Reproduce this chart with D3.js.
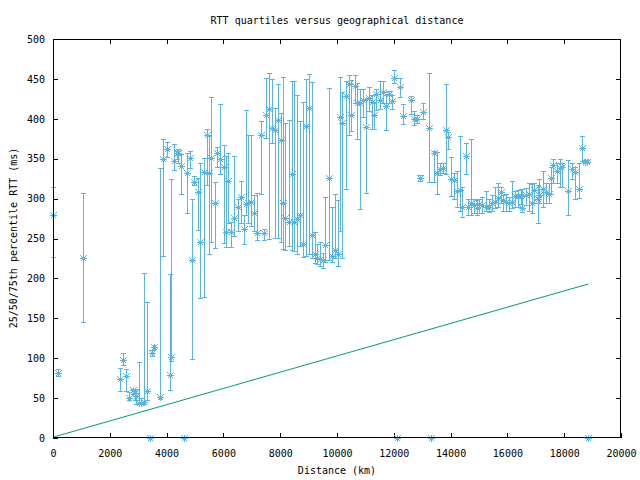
<!DOCTYPE html>
<html>
<head>
<meta charset="utf-8">
<script src="https://cdn.jsdelivr.net/npm/d3@7"></script>
<style>
  body { margin: 0; background: white; }
  svg text { font-family: 'DejaVu Sans Mono', monospace; font-size: 10px; fill: black; }
</style>
</head>
<body>
<svg id="chart" width="640" height="480"></svg>
<script>
// distance of each bin (km)
var distKm = [
  0, 190, 1070, 2360, 2480, 2580, 2690, 2800, 2880, 2930,
  3040, 3110, 3190, 3300, 3400, 3500, 3560, 3780, 3890, 4000,
  4120, 4160, 4270, 4370, 4410, 4490, 4600, 4720, 4820, 4880,
  4980, 5090, 5190, 5300, 5410, 5480, 5570, 5690, 5780, 5880,
  6010, 6090, 6170, 6280, 6380, 6500, 6610, 6710, 6780, 6850,
  6980, 7090, 7180, 7310, 7420, 7490, 7590, 7700, 7800, 7910,
  8020, 8090, 8180, 8300, 8410, 8500, 8600, 8710, 8790, 8900,
  9000, 9110, 9210, 9310, 9390, 9500, 9590, 9710, 9820, 9920,
  10040, 10090, 10190, 10300, 10420, 10510, 10630, 10710, 10800, 10910,
  11030, 11120, 11220, 11300, 11390, 11500, 11610, 11720, 11830, 11920,
  12000, 12120, 12210, 12320, 12600, 12710, 12830, 12920, 13030, 13240,
  13310, 13410, 13530, 13610, 13730, 13850, 13910, 14030, 14120, 14210,
  14330, 14410, 14540, 14630, 14730, 14820, 14920, 15010, 15120, 15240,
  15350, 15450, 15560, 15670, 15770, 15860, 15950, 16060, 16160, 16260,
  16360, 16470, 16530, 16650, 16750, 16850, 16940, 17060, 17120, 17240,
  17350, 17450, 17530, 17620, 17740, 17850, 17940, 18150, 18260, 18380,
  18530, 18630, 18730, 18790, 18850
];

// 50th percentile RTT (ms)
var rttMedian = [
  279, 81, 225, 74, 98, 78, 50, 60, 56, 53,
  44, 44, 45, 59, 0, 107, 114, 52, 349, 362,
  79, 102, 347, 357, 357, 341, 0, 332, 351, 223,
  321, 308, 246, 333, 380, 332, 351, 294, 357, 350,
  340, 258, 322, 258, 276, 290, 302, 262, 293, 294,
  296, 282, 257, 380, 257, 405, 412, 388, 386, 399,
  374, 294, 276, 271, 331, 271, 274, 279, 243, 391,
  413, 254, 231, 225, 224, 223, 242, 326, 228, 236,
  231, 402, 395, 428, 443, 405, 441, 420, 420, 423,
  390, 426, 421, 405, 431, 423, 434, 416, 431, 422,
  451, 0, 440, 403, 424, 400, 400, 326, 409, 388,
  0, 357, 332, 337, 338, 386, 377, 324, 323, 309,
  311, 290, 354, 289, 294, 292, 288, 293, 292, 290,
  289, 294, 296, 301, 308, 298, 296, 294, 296, 303,
  303, 303, 288, 304, 306, 294, 311, 300, 305, 312,
  308, 306, 326, 342, 335, 338, 339, 309, 337, 333,
  312, 363, 346, 346, 0
];

// 25th percentile RTT (ms)
var rttQ25 = [
  227, 78, 145, 59, 91, 59, 47, 55, 48, 43,
  43, 42, 43, 47, 0, 103, 111, 49, 228, 352,
  60, 96, 336, 350, 345, 306, 0, 282, 338, 99,
  317, 261, 175, 177, 317, 231, 245, 238, 340, 331,
  244, 239, 269, 239, 253, 260, 270, 243, 280, 270,
  266, 260, 248, 306, 248, 376, 250, 370, 251, 251,
  246, 237, 235, 240, 236, 234, 230, 240, 227, 228,
  230, 225, 219, 218, 216, 213, 220, 223, 220, 225,
  215, 259, 226, 312, 380, 385, 420, 375, 287, 402,
  307, 410, 387, 387, 411, 412, 420, 386, 420, 412,
  445, 0, 427, 393, 406, 392, 395, 322, 400, 321,
  0, 321, 306, 330, 332, 331, 362, 303, 300, 290,
  284, 277, 331, 280, 280, 282, 279, 282, 282, 284,
  283, 285, 288, 290, 295, 285, 285, 285, 288, 290,
  290, 293, 283, 292, 285, 282, 295, 270, 295, 290,
  295, 295, 306, 320, 320, 315, 315, 279, 325, 300,
  301, 347, 344, 344, 0
];

// 75th percentile RTT (ms)
var rttQ75 = [
  315, 86, 307, 88, 107, 87, 58, 62, 62, 62,
  95, 50, 207, 170, 0, 110, 117, 338, 375, 371,
  205, 324, 368, 360, 362, 356, 0, 357, 360, 299,
  328, 326, 345, 351, 387, 378, 427, 321, 365, 419,
  367, 354, 357, 271, 353, 300, 322, 280, 411, 380,
  380, 305, 307, 397, 262, 451, 457, 450, 414, 443,
  407, 452, 395, 398, 447, 447, 430, 397, 421, 450,
  456, 446, 258, 243, 245, 232, 302, 439, 290, 306,
  298, 453, 434, 447, 455, 448, 455, 445, 437, 437,
  425, 440, 430, 420, 437, 447, 447, 430, 435, 430,
  461, 0, 451, 419, 429, 410, 405, 329, 420, 457,
  0, 360, 358, 345, 345, 444, 384, 352, 332, 335,
  378, 315, 370, 299, 375, 300, 298, 300, 302, 310,
  300, 305, 314, 320, 315, 305, 306, 302, 322, 310,
  311, 312, 312, 313, 320, 318, 320, 317, 325, 335,
  320, 320, 340, 350, 345, 350, 345, 348, 345, 340,
  345, 379, 348, 348, 0
];

// reference line (speed of light in fibre)
var lineKm = [0, 18850];
var lineRtt = [1, 193];

var xTicks = [0, 2000, 4000, 6000, 8000, 10000, 12000, 14000, 16000, 18000, 20000];
var yTicks = [0, 50, 100, 150, 200, 250, 300, 350, 400, 450, 500];

var blue = "#56b4e9",
    green = "#009e73";

var svg = d3.select("#chart");

svg.append("rect")
   .attr("width", 640)
   .attr("height", 480)
   .attr("fill", "white");

var x = d3.scaleLinear().domain([0, 20000]).range([53, 621]);
var y = d3.scaleLinear().domain([0, 500]).range([438, 39]);

// Title
svg.append("text")
   .attr("x", 337)
   .attr("y", 24)
   .attr("text-anchor", "middle")
   .text("RTT quartiles versus geographical distance");

// Axis labels
svg.append("text")
   .attr("x", 337)
   .attr("y", 474)
   .attr("text-anchor", "middle")
   .text("Distance (km)");

svg.append("text")
   .attr("transform", "translate(16.5,238) rotate(-90)")
   .attr("text-anchor", "middle")
   .text("25/50/75th percentile RTT (ms)");

// Axes (ticks pointing inwards, gnuplot style)
var fmt = d3.format("d");
var gx = svg.append("g")
  .attr("transform", "translate(0,438)")
  .call(d3.axisBottom(x).tickValues(xTicks).tickFormat(fmt).tickSizeInner(-5).tickSizeOuter(0).tickPadding(12));
var gy = svg.append("g")
  .attr("transform", "translate(53,0)")
  .call(d3.axisLeft(y).tickValues(yTicks).tickFormat(fmt).tickSizeInner(-5).tickSizeOuter(0).tickPadding(8));
var gxTop = svg.append("g")
  .attr("transform", "translate(0,39)")
  .call(d3.axisTop(x).tickValues(xTicks.slice(1, -1)).tickSizeInner(-5).tickSizeOuter(0).tickFormat(""));
var gyRight = svg.append("g")
  .attr("transform", "translate(621,0)")
  .call(d3.axisRight(y).tickValues(yTicks.slice(1, -1)).tickSizeInner(-5).tickSizeOuter(0).tickFormat(""));

[gx, gy, gxTop, gyRight].forEach(function(g) {
  g.select(".domain").remove();
  g.attr("font-family", null).attr("font-size", null);
  g.selectAll("line").attr("stroke", "black").attr("shape-rendering", "crispEdges");
});

// Reference line
var line = d3.line()
  .x(function(d, i) { return x(lineKm[i]); })
  .y(function(d) { return y(d); });
svg.append("path")
   .datum(lineRtt)
   .attr("d", line)
   .attr("fill", "none")
   .attr("stroke", green)
   .attr("stroke-width", 1);

// Error bars + star points
var pts = distKm.map(function(d, i) {
  return { dist: d, med: rttMedian[i], lo: rttQ25[i], hi: rttQ75[i] };
});

var cap = 2.5, s = 3.5, sd = 3;
var bars = svg.append("g")
  .attr("stroke", blue)
  .attr("stroke-width", 1)
  .attr("fill", "none")
  .attr("shape-rendering", "crispEdges");

pts.forEach(function(p) {
  var px = Math.round(x(p.dist)) + 0.5,
      ylo = Math.round(y(p.lo)) + 0.5,
      yhi = Math.round(y(p.hi)) + 0.5,
      ym = Math.round(y(p.med)) + 0.5;
  if (p.hi > p.lo) {
    bars.append("path")
      .attr("d", "M" + px + "," + ylo + "V" + yhi +
                 "M" + (px - cap) + "," + yhi + "H" + (px + cap) +
                 "M" + (px - cap) + "," + ylo + "H" + (px + cap));
  }
  bars.append("path")
    .attr("d", "M" + (px - s) + "," + ym + "H" + (px + s) +
               "M" + px + "," + (ym - s) + "V" + (ym + s) +
               "M" + (px - sd) + "," + (ym - sd) + "L" + (px + sd) + "," + (ym + sd) +
               "M" + (px - sd) + "," + (ym + sd) + "L" + (px + sd) + "," + (ym - sd));
});

// Border
svg.append("rect")
   .attr("x", 53.5)
   .attr("y", 39.5)
   .attr("width", 567)
   .attr("height", 398)
   .attr("fill", "none")
   .attr("stroke", "black")
   .attr("shape-rendering", "crispEdges");
</script>
</body>
</html>
